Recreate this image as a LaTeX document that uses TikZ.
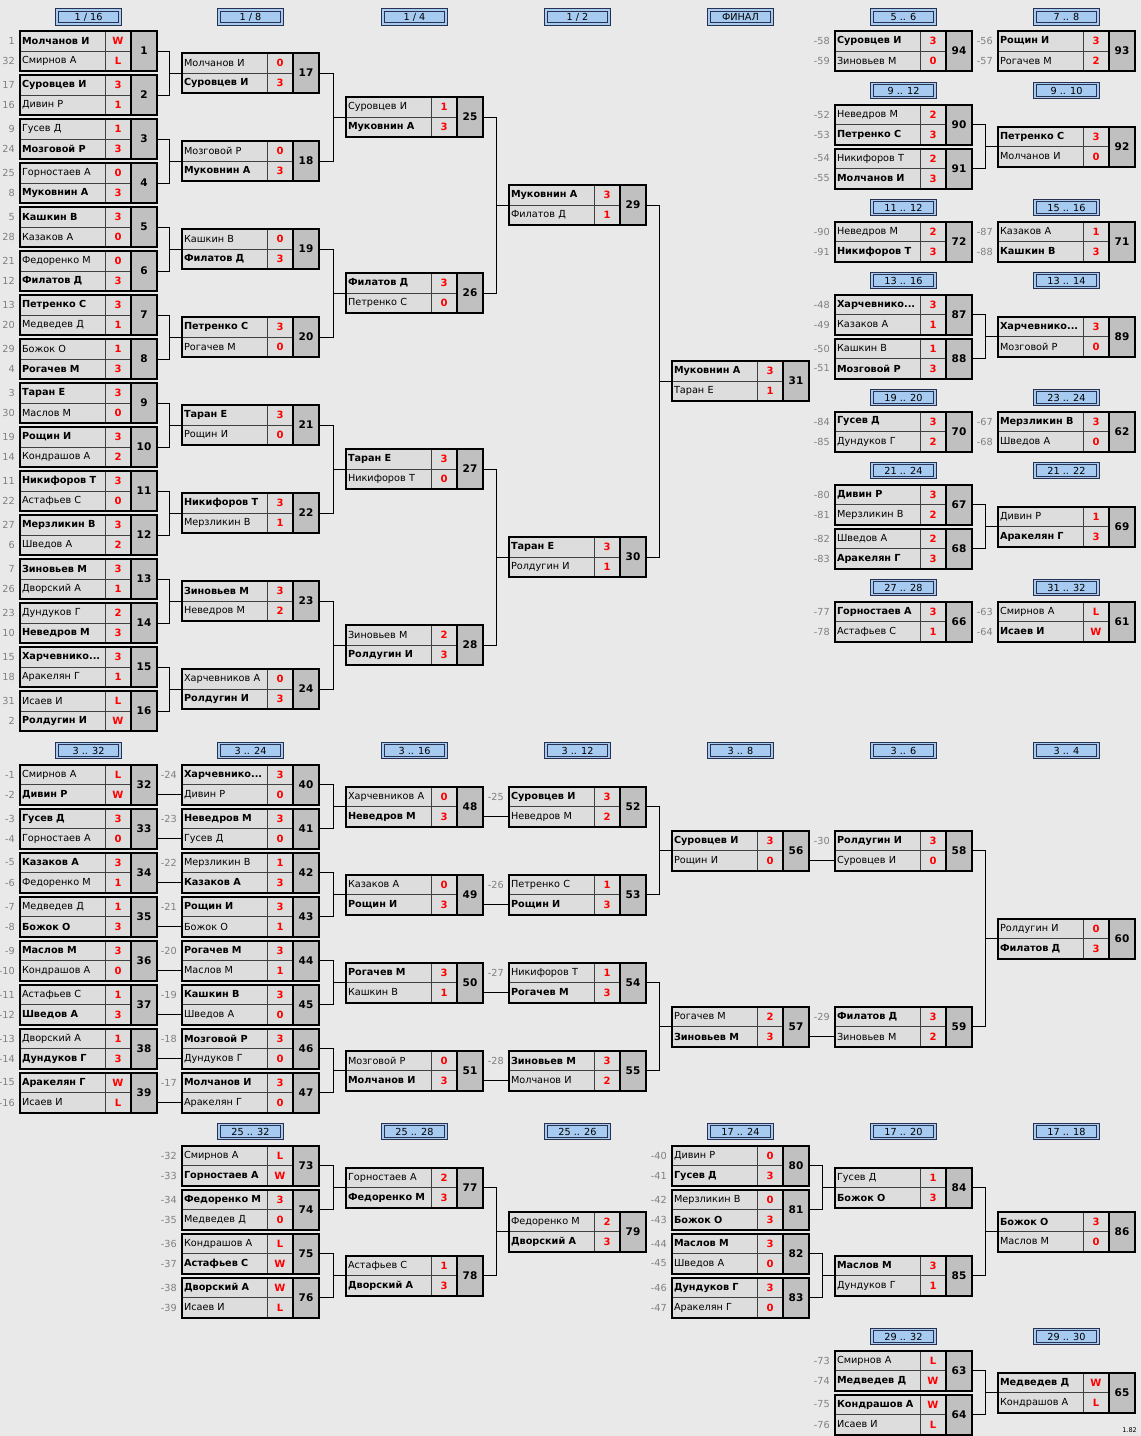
\documentclass[tikz,border=0pt]{standalone}
\usepackage{fontspec}
\setmainfont{DejaVu Sans}
\usetikzlibrary{calc}
\definecolor{PageGray}{RGB}{233,233,233}
\definecolor{CellGray}{RGB}{221,221,221}
\definecolor{NumGray}{RGB}{192,192,192}
\definecolor{HeadBlue}{RGB}{166,202,240}
\definecolor{HeadLine}{RGB}{40,50,80}
\definecolor{ScoreRed}{RGB}{255,0,0}
\definecolor{SeedGray}{RGB}{128,128,128}

\tikzset{
  namecell/.style={draw=black!75, line width=0.6pt, fill=CellGray, minimum height=20pt,
    text width=81pt, inner xsep=2pt, inner ysep=0pt, outer sep=0pt, align=left,
    font=\fontsize{9.7}{10}\selectfont},
  scorecell/.style={draw=black!75, line width=0.6pt, fill=CellGray, minimum width=26pt,
    minimum height=20pt, inner sep=0pt, outer sep=0pt, text=ScoreRed,
    font=\bfseries\fontsize{10}{11}\selectfont},
  numcell/.style={draw=black, line width=1.5pt, fill=NumGray, minimum width=26pt,
    minimum height=40pt, inner sep=0pt, outer sep=0pt, font=\bfseries\fontsize{10.5}{11}\selectfont},
  matchbox/.style={draw=black, line width=2pt, minimum width=137pt, minimum height=40pt,
    inner sep=0pt, outer sep=0pt},
  seed/.style={text=SeedGray, anchor=east, inner sep=0pt, font=\fontsize{9.7}{10}\selectfont},
  head/.style={draw=HeadLine, line width=0.8pt, double=HeadBlue, double distance=1.6pt,
    fill=HeadBlue, minimum width=63pt, minimum height=14pt, inner sep=0pt,
    font=\fontsize{9.7}{10}\selectfont},
  link/.style={draw=black, line width=0.8pt},
}

% one match: id, left x, centre y, player 1, score 1, player 2, score 2
\newcommand\Match[7]{%
  \node[namecell, anchor=south west] (m#1a) at (#2,#3) {#4};
  \node[scorecell, anchor=west] (m#1sa) at (m#1a.east) {#5};
  \node[namecell, anchor=north west] (m#1b) at (#2,#3) {#6};
  \node[scorecell, anchor=west] (m#1sb) at (m#1b.east) {#7};
  \node[numcell, anchor=north west] (m#1n) at (m#1sa.north east) {#1};
  \node[matchbox, anchor=west] (m#1) at (#2,#3) {};
}
\newcommand\Seed[2]{\node[seed] (#1-s) at ([xshift=-5pt]#1.west) {#2};}
% two matches feeding the next one
\newcommand\Fork[3]{%
  \draw[link] (m#1.east) -| ($(m#3.west)+(-12.5,0)$) |- (m#2.east);
  \draw[link] (m#3.west) -- ++(-12.5,0);
}
% winner passing straight on to the lower row of the next match
\newcommand\Pass[2]{\draw[link] (m#2b.west) -- (m#2b.west -| m#1.east);}

\begin{document}
\begin{tikzpicture}[x=1pt, y=-1pt]

    \fill[PageGray] (0,0) rectangle (1141,1436);
    \useasboundingbox (0,0) rectangle (1141,1436);

    % headers
    \node[head] (h116) at (88.5,17) {1 / 16};
    \node[head] (h18) at (250.5,17) {1 / 8};
    \node[head] (h14) at (414.5,17) {1 / 4};
    \node[head] (h12) at (577.5,17) {1 / 2};
    \node[head] (hfin) at (740.5,17) {ФИНАЛ};
    \node[head] (h56) at (903.5,17) {5 .. 6};
    \node[head] (h78) at (1066.5,17) {7 .. 8};
    \node[head] (h912) at (903.5,90.5) {9 .. 12};
    \node[head] (h910) at (1066.5,90.5) {9 .. 10};
    \node[head] (h1112) at (903.5,207.5) {11 .. 12};
    \node[head] (h1516) at (1066.5,207.5) {15 .. 16};
    \node[head] (h1316) at (903.5,280.5) {13 .. 16};
    \node[head] (h1314) at (1066.5,280.5) {13 .. 14};
    \node[head] (h1920) at (903.5,397.5) {19 .. 20};
    \node[head] (h2324) at (1066.5,397.5) {23 .. 24};
    \node[head] (h2124) at (903.5,470.5) {21 .. 24};
    \node[head] (h2122) at (1066.5,470.5) {21 .. 22};
    \node[head] (h2728) at (903.5,587.5) {27 .. 28};
    \node[head] (h3132) at (1066.5,587.5) {31 .. 32};
    \node[head] (h332) at (88.5,750.5) {3 .. 32};
    \node[head] (h324) at (250.5,750.5) {3 .. 24};
    \node[head] (h316) at (414.5,750.5) {3 .. 16};
    \node[head] (h312) at (577.5,750.5) {3 .. 12};
    \node[head] (h38) at (740.5,750.5) {3 .. 8};
    \node[head] (h36) at (903.5,750.5) {3 .. 6};
    \node[head] (h34) at (1066.5,750.5) {3 .. 4};
    \node[head] (h2532) at (250.5,1131.5) {25 .. 32};
    \node[head] (h2528) at (414.5,1131.5) {25 .. 28};
    \node[head] (h2526) at (577.5,1131.5) {25 .. 26};
    \node[head] (h1724) at (740.5,1131.5) {17 .. 24};
    \node[head] (h1720) at (903.5,1131.5) {17 .. 20};
    \node[head] (h1718) at (1066.5,1131.5) {17 .. 18};
    \node[head] (h2932) at (903.5,1336.5) {29 .. 32};
    \node[head] (h2930) at (1066.5,1336.5) {29 .. 30};

    % main bracket
    \Match{1}{20}{51}{\textbf{Молчанов И}}{W}{Смирнов А}{L}
    \Match{2}{20}{95}{\textbf{Суровцев И}}{3}{Дивин Р}{1}
    \Match{3}{20}{139}{Гусев Д}{1}{\textbf{Мозговой Р}}{3}
    \Match{4}{20}{183}{Горностаев А}{0}{\textbf{Муковнин А}}{3}
    \Match{5}{20}{227}{\textbf{Кашкин В}}{3}{Казаков А}{0}
    \Match{6}{20}{271}{Федоренко М}{0}{\textbf{Филатов Д}}{3}
    \Match{7}{20}{315}{\textbf{Петренко С}}{3}{Медведев Д}{1}
    \Match{8}{20}{359}{Божок О}{1}{\textbf{Рогачев М}}{3}
    \Match{9}{20}{403}{\textbf{Таран Е}}{3}{Маслов М}{0}
    \Match{10}{20}{447}{\textbf{Рощин И}}{3}{Кондрашов А}{2}
    \Match{11}{20}{491}{\textbf{Никифоров Т}}{3}{Астафьев С}{0}
    \Match{12}{20}{535}{\textbf{Мерзликин В}}{3}{Шведов А}{2}
    \Match{13}{20}{579}{\textbf{Зиновьев М}}{3}{Дворский А}{1}
    \Match{14}{20}{623}{Дундуков Г}{2}{\textbf{Неведров М}}{3}
    \Match{15}{20}{667}{\textbf{Харчевнико...}}{3}{Аракелян Г}{1}
    \Match{16}{20}{711}{Исаев И}{L}{\textbf{Ролдугин И}}{W}
    \Seed{m1a}{1} \Seed{m1b}{32} \Seed{m2a}{17} \Seed{m2b}{16}
    \Seed{m3a}{9} \Seed{m3b}{24} \Seed{m4a}{25} \Seed{m4b}{8}
    \Seed{m5a}{5} \Seed{m5b}{28} \Seed{m6a}{21} \Seed{m6b}{12}
    \Seed{m7a}{13} \Seed{m7b}{20} \Seed{m8a}{29} \Seed{m8b}{4}
    \Seed{m9a}{3} \Seed{m9b}{30} \Seed{m10a}{19} \Seed{m10b}{14}
    \Seed{m11a}{11} \Seed{m11b}{22} \Seed{m12a}{27} \Seed{m12b}{6}
    \Seed{m13a}{7} \Seed{m13b}{26} \Seed{m14a}{23} \Seed{m14b}{10}
    \Seed{m15a}{15} \Seed{m15b}{18} \Seed{m16a}{31} \Seed{m16b}{2}

    \Match{17}{182}{73}{Молчанов И}{0}{\textbf{Суровцев И}}{3}
    \Match{18}{182}{161}{Мозговой Р}{0}{\textbf{Муковнин А}}{3}
    \Match{19}{182}{249}{Кашкин В}{0}{\textbf{Филатов Д}}{3}
    \Match{20}{182}{337}{\textbf{Петренко С}}{3}{Рогачев М}{0}
    \Match{21}{182}{425}{\textbf{Таран Е}}{3}{Рощин И}{0}
    \Match{22}{182}{513}{\textbf{Никифоров Т}}{3}{Мерзликин В}{1}
    \Match{23}{182}{601}{\textbf{Зиновьев М}}{3}{Неведров М}{2}
    \Match{24}{182}{689}{Харчевников А}{0}{\textbf{Ролдугин И}}{3}

    \Match{25}{346}{117}{Суровцев И}{1}{\textbf{Муковнин А}}{3}
    \Match{26}{346}{293}{\textbf{Филатов Д}}{3}{Петренко С}{0}
    \Match{27}{346}{469}{\textbf{Таран Е}}{3}{Никифоров Т}{0}
    \Match{28}{346}{645}{Зиновьев М}{2}{\textbf{Ролдугин И}}{3}

    \Match{29}{509}{205}{\textbf{Муковнин А}}{3}{Филатов Д}{1}
    \Match{30}{509}{557}{\textbf{Таран Е}}{3}{Ролдугин И}{1}

    \Match{31}{672}{381}{\textbf{Муковнин А}}{3}{Таран Е}{1}

    \Fork{1}{2}{17} \Fork{3}{4}{18} \Fork{5}{6}{19} \Fork{7}{8}{20}
    \Fork{9}{10}{21} \Fork{11}{12}{22} \Fork{13}{14}{23} \Fork{15}{16}{24}
    \Fork{17}{18}{25} \Fork{19}{20}{26} \Fork{21}{22}{27} \Fork{23}{24}{28}
    \Fork{25}{26}{29} \Fork{27}{28}{30}
    \Fork{29}{30}{31}

    % places 5 .. 32
    \Match{94}{835}{51}{\textbf{Суровцев И}}{3}{Зиновьев М}{0}
    \Match{93}{998}{51}{\textbf{Рощин И}}{3}{Рогачев М}{2}
    \Seed{m94a}{-58} \Seed{m94b}{-59} \Seed{m93a}{-56} \Seed{m93b}{-57}

    \Match{90}{835}{124.5}{Неведров М}{2}{\textbf{Петренко С}}{3}
    \Match{91}{835}{168.5}{Никифоров Т}{2}{\textbf{Молчанов И}}{3}
    \Match{92}{998}{146.5}{\textbf{Петренко С}}{3}{Молчанов И}{0}
    \Seed{m90a}{-52} \Seed{m90b}{-53} \Seed{m91a}{-54} \Seed{m91b}{-55}
    \Fork{90}{91}{92}

    \Match{72}{835}{241.5}{Неведров М}{2}{\textbf{Никифоров Т}}{3}
    \Match{71}{998}{241.5}{Казаков А}{1}{\textbf{Кашкин В}}{3}
    \Seed{m72a}{-90} \Seed{m72b}{-91} \Seed{m71a}{-87} \Seed{m71b}{-88}

    \Match{87}{835}{314.5}{\textbf{Харчевнико...}}{3}{Казаков А}{1}
    \Match{88}{835}{358.5}{Кашкин В}{1}{\textbf{Мозговой Р}}{3}
    \Match{89}{998}{336.5}{\textbf{Харчевнико...}}{3}{Мозговой Р}{0}
    \Seed{m87a}{-48} \Seed{m87b}{-49} \Seed{m88a}{-50} \Seed{m88b}{-51}
    \Fork{87}{88}{89}

    \Match{70}{835}{431.5}{\textbf{Гусев Д}}{3}{Дундуков Г}{2}
    \Match{62}{998}{431.5}{\textbf{Мерзликин В}}{3}{Шведов А}{0}
    \Seed{m70a}{-84} \Seed{m70b}{-85} \Seed{m62a}{-67} \Seed{m62b}{-68}

    \Match{67}{835}{504.5}{\textbf{Дивин Р}}{3}{Мерзликин В}{2}
    \Match{68}{835}{548.5}{Шведов А}{2}{\textbf{Аракелян Г}}{3}
    \Match{69}{998}{526.5}{Дивин Р}{1}{\textbf{Аракелян Г}}{3}
    \Seed{m67a}{-80} \Seed{m67b}{-81} \Seed{m68a}{-82} \Seed{m68b}{-83}
    \Fork{67}{68}{69}

    \Match{66}{835}{621.5}{\textbf{Горностаев А}}{3}{Астафьев С}{1}
    \Match{61}{998}{621.5}{Смирнов А}{L}{\textbf{Исаев И}}{W}
    \Seed{m66a}{-77} \Seed{m66b}{-78} \Seed{m61a}{-63} \Seed{m61b}{-64}

    % places 3 .. 32
    \Match{32}{20}{784.5}{Смирнов А}{L}{\textbf{Дивин Р}}{W}
    \Match{33}{20}{828.5}{\textbf{Гусев Д}}{3}{Горностаев А}{0}
    \Match{34}{20}{872.5}{\textbf{Казаков А}}{3}{Федоренко М}{1}
    \Match{35}{20}{916.5}{Медведев Д}{1}{\textbf{Божок О}}{3}
    \Match{36}{20}{960.5}{\textbf{Маслов М}}{3}{Кондрашов А}{0}
    \Match{37}{20}{1004.5}{Астафьев С}{1}{\textbf{Шведов А}}{3}
    \Match{38}{20}{1048.5}{Дворский А}{1}{\textbf{Дундуков Г}}{3}
    \Match{39}{20}{1092.5}{\textbf{Аракелян Г}}{W}{Исаев И}{L}
    \Seed{m32a}{-1} \Seed{m32b}{-2} \Seed{m33a}{-3} \Seed{m33b}{-4}
    \Seed{m34a}{-5} \Seed{m34b}{-6} \Seed{m35a}{-7} \Seed{m35b}{-8}
    \Seed{m36a}{-9} \Seed{m36b}{-10} \Seed{m37a}{-11} \Seed{m37b}{-12}
    \Seed{m38a}{-13} \Seed{m38b}{-14} \Seed{m39a}{-15} \Seed{m39b}{-16}

    \Match{40}{182}{784.5}{\textbf{Харчевнико...}}{3}{Дивин Р}{0}
    \Match{41}{182}{828.5}{\textbf{Неведров М}}{3}{Гусев Д}{0}
    \Match{42}{182}{872.5}{Мерзликин В}{1}{\textbf{Казаков А}}{3}
    \Match{43}{182}{916.5}{\textbf{Рощин И}}{3}{Божок О}{1}
    \Match{44}{182}{960.5}{\textbf{Рогачев М}}{3}{Маслов М}{1}
    \Match{45}{182}{1004.5}{\textbf{Кашкин В}}{3}{Шведов А}{0}
    \Match{46}{182}{1048.5}{\textbf{Мозговой Р}}{3}{Дундуков Г}{0}
    \Match{47}{182}{1092.5}{\textbf{Молчанов И}}{3}{Аракелян Г}{0}
    \Seed{m40a}{-24} \Seed{m41a}{-23} \Seed{m42a}{-22} \Seed{m43a}{-21}
    \Seed{m44a}{-20} \Seed{m45a}{-19} \Seed{m46a}{-18} \Seed{m47a}{-17}
    \Pass{32}{40} \Pass{33}{41} \Pass{34}{42} \Pass{35}{43}
    \Pass{36}{44} \Pass{37}{45} \Pass{38}{46} \Pass{39}{47}

    \Match{48}{346}{806.5}{Харчевников А}{0}{\textbf{Неведров М}}{3}
    \Match{49}{346}{894.5}{Казаков А}{0}{\textbf{Рощин И}}{3}
    \Match{50}{346}{982.5}{\textbf{Рогачев М}}{3}{Кашкин В}{1}
    \Match{51}{346}{1070.5}{Мозговой Р}{0}{\textbf{Молчанов И}}{3}
    \Fork{40}{41}{48} \Fork{42}{43}{49} \Fork{44}{45}{50} \Fork{46}{47}{51}

    \Match{52}{509}{806.5}{\textbf{Суровцев И}}{3}{Неведров М}{2}
    \Match{53}{509}{894.5}{Петренко С}{1}{\textbf{Рощин И}}{3}
    \Match{54}{509}{982.5}{Никифоров Т}{1}{\textbf{Рогачев М}}{3}
    \Match{55}{509}{1070.5}{\textbf{Зиновьев М}}{3}{Молчанов И}{2}
    \Seed{m52a}{-25} \Seed{m53a}{-26} \Seed{m54a}{-27} \Seed{m55a}{-28}
    \Pass{48}{52} \Pass{49}{53} \Pass{50}{54} \Pass{51}{55}

    \Match{56}{672}{850.5}{\textbf{Суровцев И}}{3}{Рощин И}{0}
    \Match{57}{672}{1026.5}{Рогачев М}{2}{\textbf{Зиновьев М}}{3}
    \Fork{52}{53}{56} \Fork{54}{55}{57}

    \Match{58}{835}{850.5}{\textbf{Ролдугин И}}{3}{Суровцев И}{0}
    \Match{59}{835}{1026.5}{\textbf{Филатов Д}}{3}{Зиновьев М}{2}
    \Seed{m58a}{-30} \Seed{m59a}{-29}
    \Pass{56}{58} \Pass{57}{59}

    \Match{60}{998}{938.5}{Ролдугин И}{0}{\textbf{Филатов Д}}{3}
    \Fork{58}{59}{60}

    % places 17 .. 32
    \Match{73}{182}{1165.5}{Смирнов А}{L}{\textbf{Горностаев А}}{W}
    \Match{74}{182}{1209.5}{\textbf{Федоренко М}}{3}{Медведев Д}{0}
    \Match{75}{182}{1253.5}{Кондрашов А}{L}{\textbf{Астафьев С}}{W}
    \Match{76}{182}{1297.5}{\textbf{Дворский А}}{W}{Исаев И}{L}
    \Seed{m73a}{-32} \Seed{m73b}{-33} \Seed{m74a}{-34} \Seed{m74b}{-35}
    \Seed{m75a}{-36} \Seed{m75b}{-37} \Seed{m76a}{-38} \Seed{m76b}{-39}

    \Match{77}{346}{1187.5}{Горностаев А}{2}{\textbf{Федоренко М}}{3}
    \Match{78}{346}{1275.5}{Астафьев С}{1}{\textbf{Дворский А}}{3}
    \Fork{73}{74}{77} \Fork{75}{76}{78}

    \Match{79}{509}{1231.5}{Федоренко М}{2}{\textbf{Дворский А}}{3}
    \Fork{77}{78}{79}

    \Match{80}{672}{1165.5}{Дивин Р}{0}{\textbf{Гусев Д}}{3}
    \Match{81}{672}{1209.5}{Мерзликин В}{0}{\textbf{Божок О}}{3}
    \Match{82}{672}{1253.5}{\textbf{Маслов М}}{3}{Шведов А}{0}
    \Match{83}{672}{1297.5}{\textbf{Дундуков Г}}{3}{Аракелян Г}{0}
    \Seed{m80a}{-40} \Seed{m80b}{-41} \Seed{m81a}{-42} \Seed{m81b}{-43}
    \Seed{m82a}{-44} \Seed{m82b}{-45} \Seed{m83a}{-46} \Seed{m83b}{-47}

    \Match{84}{835}{1187.5}{Гусев Д}{1}{\textbf{Божок О}}{3}
    \Match{85}{835}{1275.5}{\textbf{Маслов М}}{3}{Дундуков Г}{1}
    \Fork{80}{81}{84} \Fork{82}{83}{85}

    \Match{86}{998}{1231.5}{\textbf{Божок О}}{3}{Маслов М}{0}
    \Fork{84}{85}{86}

    \Match{63}{835}{1370.5}{Смирнов А}{L}{\textbf{Медведев Д}}{W}
    \Match{64}{835}{1414.5}{\textbf{Кондрашов А}}{W}{Исаев И}{L}
    \Match{65}{998}{1392.5}{\textbf{Медведев Д}}{W}{Кондрашов А}{L}
    \Seed{m63a}{-73} \Seed{m63b}{-74} \Seed{m64a}{-75} \Seed{m64b}{-76}
    \Fork{63}{64}{65}

    \node[anchor=south east, inner sep=0pt, font=\fontsize{6.5}{7}\selectfont] (ver) at (1137,1433) {1.82};

\end{tikzpicture}
\end{document}
